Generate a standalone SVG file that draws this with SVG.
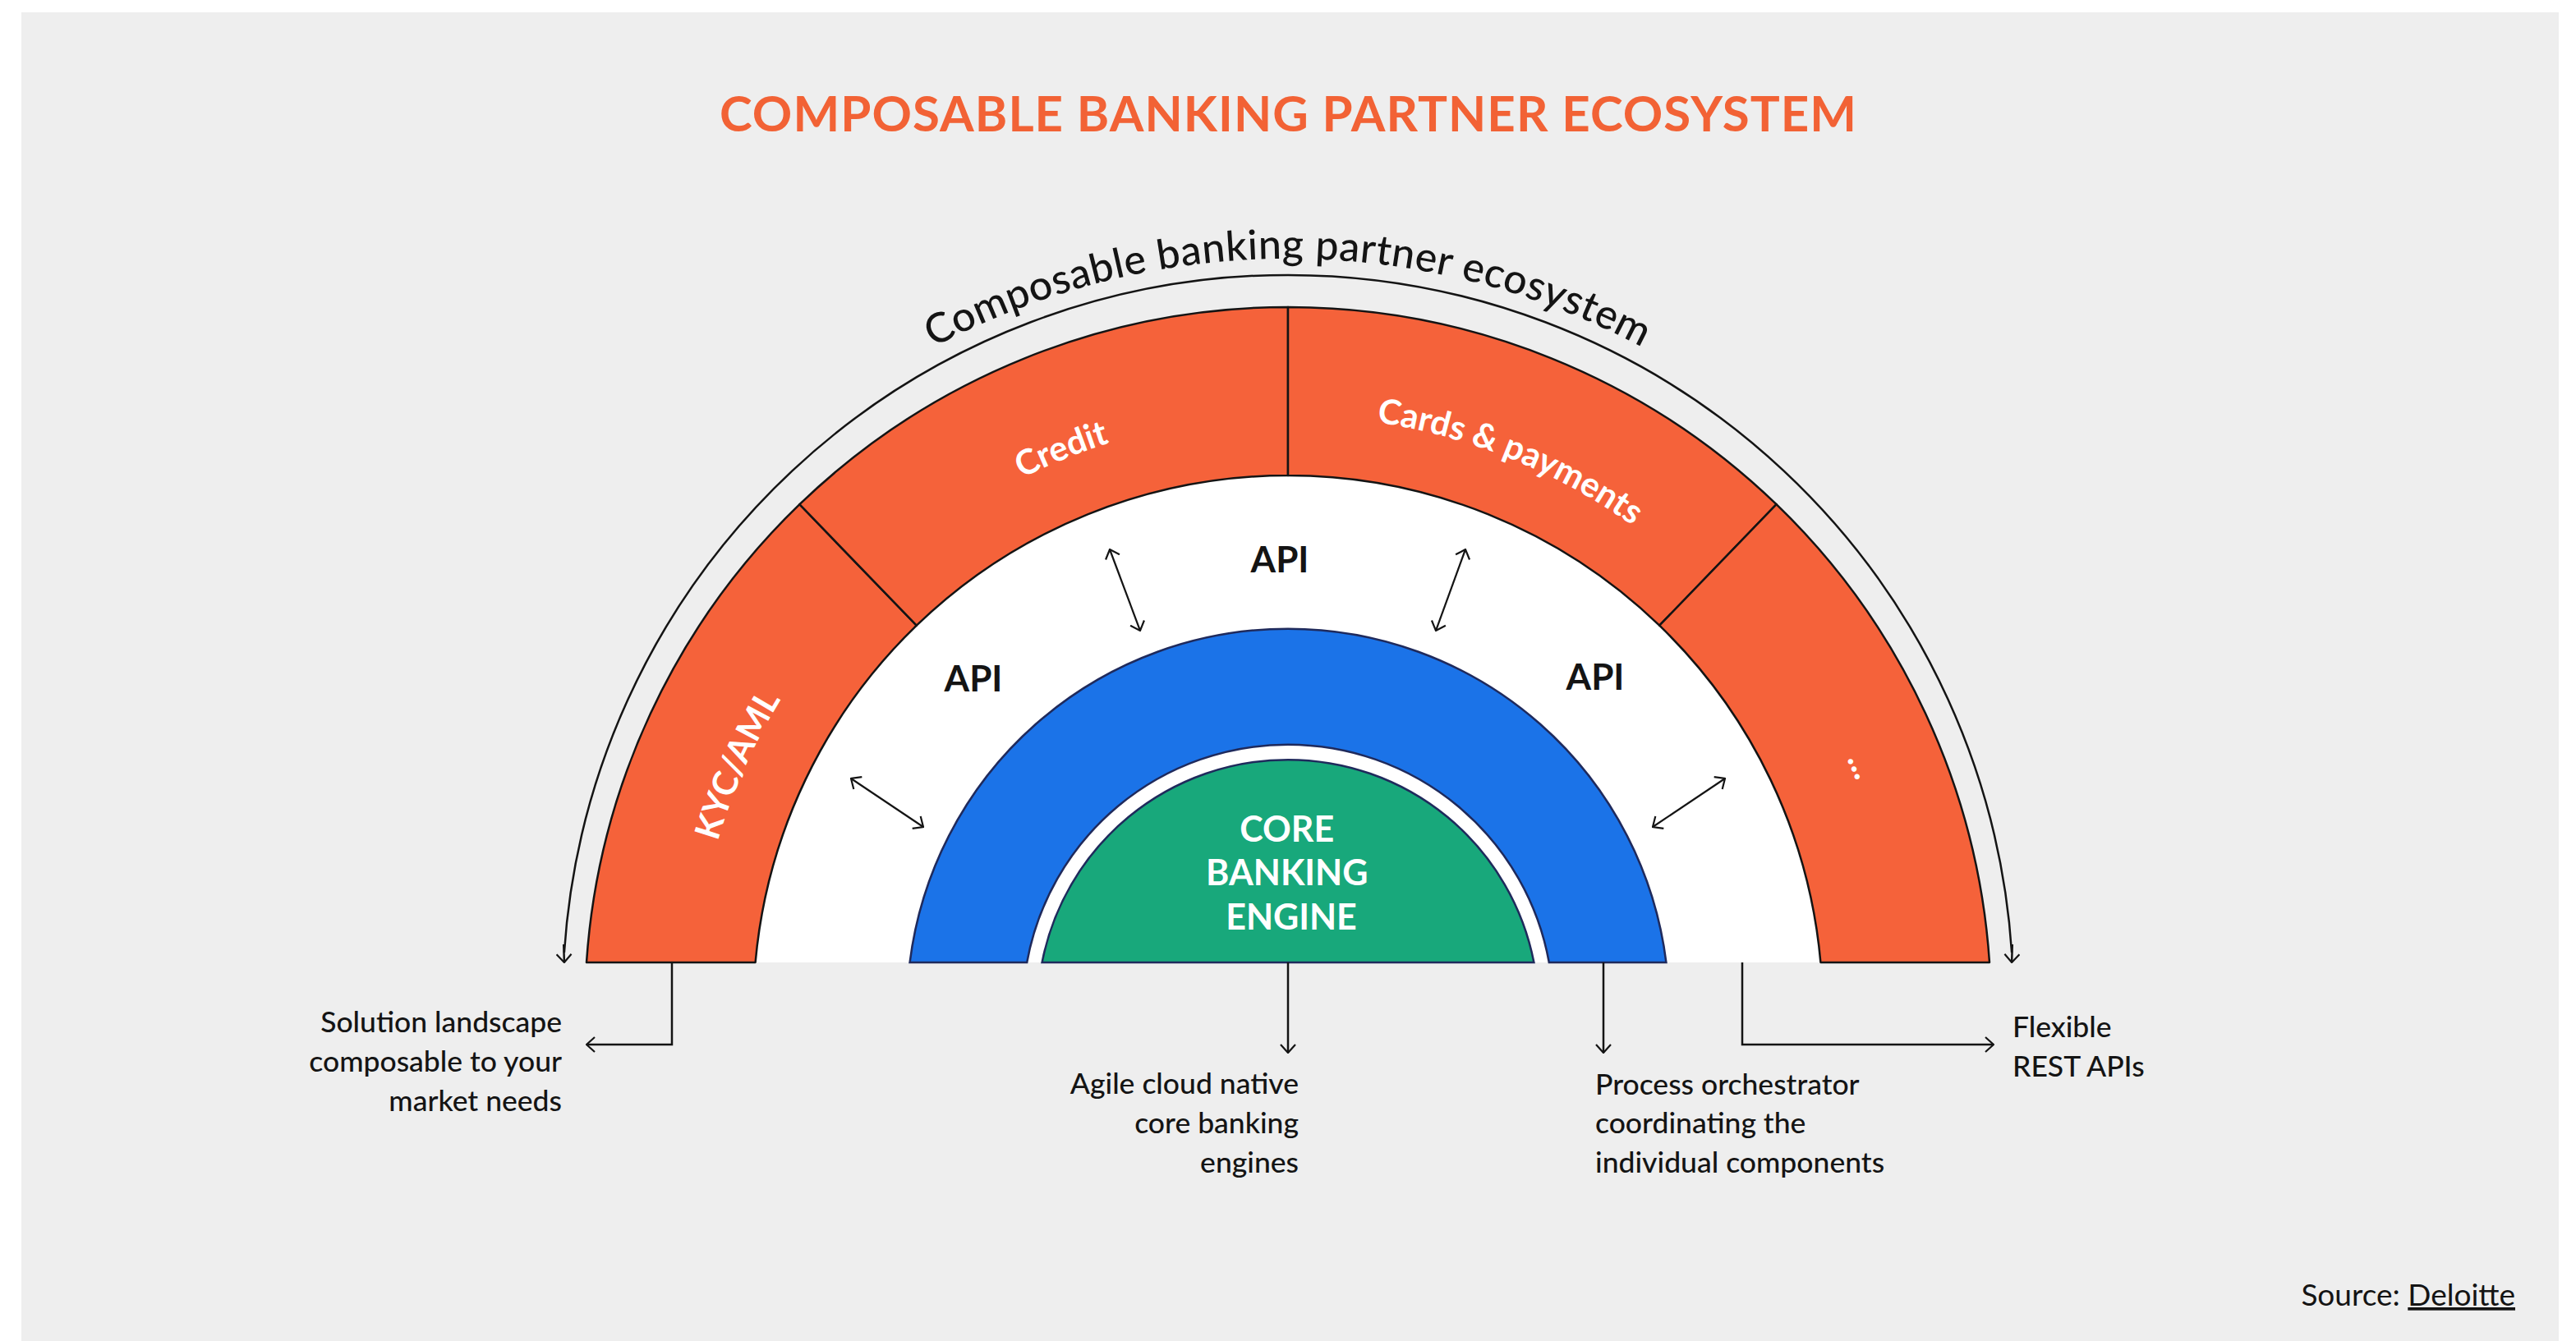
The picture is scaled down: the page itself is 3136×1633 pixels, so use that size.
<svg xmlns="http://www.w3.org/2000/svg" width="3136" height="1633" viewBox="0 0 3136 1633">
<style>
.t{font-family:Lato,"Open Sans","Liberation Sans",sans-serif;fill:#141414}
.lbl{font-size:35.5px;font-weight:500}
.seg{font-family:Lato,"Open Sans","Liberation Sans",sans-serif;font-weight:700;font-size:42px;fill:#fff}
.api{font-family:Lato,"Open Sans","Liberation Sans",sans-serif;font-weight:700;font-size:44px;fill:#141414}
.orange{fill:#F5623A;stroke:#141414;stroke-width:2.5;stroke-linejoin:round}
.blue{fill:#1B73E8;stroke:#1F2A5C;stroke-width:2.5}
.green{fill:#18A87B;stroke:#1F2A5C;stroke-width:2.5}
.ln{fill:none;stroke:#141414;stroke-width:2.5}
.dbl{fill:none;stroke:#141414;stroke-width:2.2;marker-start:url(#ah);marker-end:url(#ah)}
.one{fill:none;stroke:#141414;stroke-width:2.5;marker-end:url(#ah)}
</style>
<defs>
<marker id="ah" viewBox="0 0 12 20" refX="11" refY="10" markerWidth="12" markerHeight="20" markerUnits="userSpaceOnUse" orient="auto-start-reverse"><path d="M1,1 L11,10 L1,19" fill="none" stroke="#141414" stroke-width="2.2"/></marker>
<path id="arcTitle" d="M653,1230 A915,915 0 0 1 2483,1230"/>
<path id="arcSeg" d="M844,1230 A724,724 0 0 1 2292,1230"/>
<path id="arcDots" d="M822,1230 A746,746 0 0 1 2314,1230"/>
</defs>
<rect x="26" y="15" width="3089" height="1618" fill="#EEEEEE"/>
<text x="1568" y="160" text-anchor="middle" textLength="1384" font-family="Lato,'Open Sans','Liberation Sans',sans-serif" font-weight="700" font-size="60" fill="#F26235">COMPOSABLE BANKING PARTNER ECOSYSTEM</text>

<g id="ecosystem-label">
<text class="t" font-size="50" font-weight="500" letter-spacing="0.6"><textPath href="#arcTitle" startOffset="50%" text-anchor="middle">Composable banking partner ecosystem</textPath></text>
</g>

<g id="white-ring">
<path d="M919.6,1172 A651,651 0 0 1 2216.4,1172 Z" fill="#FFFFFF"/>
</g>

<g id="seg-kyc">
<path class="orange" d="M714,1172 A856,856 0 0 1 973.4,614.2 L1115.8,761.7 A651,651 0 0 0 919.6,1172 Z"/>
<text class="seg"><textPath href="#arcSeg" startOffset="303" text-anchor="middle">KYC/AML</textPath></text>
</g>
<g id="seg-credit">
<path class="orange" d="M973.4,614.2 A856,856 0 0 1 1568,374 L1568,579 A651,651 0 0 0 1115.8,761.7 Z"/>
<text class="seg"><textPath href="#arcSeg" startOffset="859" text-anchor="middle">Credit</textPath></text>
</g>
<g id="seg-cards">
<path class="orange" d="M1568,374 A856,856 0 0 1 2162.6,614.2 L2020.2,761.7 A651,651 0 0 0 1568,579 Z"/>
<text class="seg"><textPath href="#arcSeg" startOffset="1415" text-anchor="middle">Cards &amp; payments</textPath></text>
</g>
<g id="seg-more">
<path class="orange" d="M2162.6,614.2 A856,856 0 0 1 2422,1172 L2216.4,1172 A651,651 0 0 0 2020.2,761.7 Z"/>
<text class="seg" font-size="50"><textPath href="#arcDots" startOffset="2043" text-anchor="middle">...</textPath></text>
</g>

<g id="orchestrator">
<path class="blue" d="M1107.6,1172 A464,464 0 0 1 2028.4,1172 L1885.8,1172 A323,323 0 0 0 1250.2,1172 Z"/>
</g>

<g id="core-engine">
<path class="green" d="M1268.6,1172 A305,305 0 0 1 1867.4,1172 Z"/>
<text font-family="Lato,'Open Sans','Liberation Sans',sans-serif" font-weight="700" font-size="43" fill="#FFFFFF" text-anchor="middle">
<tspan x="1572" y="1025">CORE</tspan>
<tspan x="1572" y="1078">BANKING</tspan>
<tspan x="1572" y="1132">ENGINE</tspan>
</text>
</g>

<g id="api-labels">
<text class="api" x="1185" y="842" text-anchor="middle">API</text>
<text class="api" x="1558" y="697" text-anchor="middle">API</text>
<text class="api" x="1942" y="840" text-anchor="middle">API</text>
</g>

<g id="connectors">
<path class="ln" d="M686.9,1160 A883,883 0 0 1 2449.1,1160" />
<path class="dbl" d="M1036,948 L1124,1007"/>
<path class="dbl" d="M1351,669 L1388,768"/>
<path class="dbl" d="M1784,669 L1748,768"/>
<path class="dbl" d="M2100,948 L2012,1007"/>
<path class="one" d="M818,1172 V1272 H714"/>
<path class="one" d="M1568,1172 V1282"/>
<path class="one" d="M1952,1172 V1282"/>
<path class="one" d="M2121,1172 V1272 H2427"/>
</g>

<g id="outer-arrow-heads">
<path class="one" d="M686.2,1150 L686.9,1172"/>
<path class="one" d="M2449.8,1150 L2449.1,1172"/>
</g>

<g id="note-solution">
<text class="t lbl" text-anchor="end"><tspan x="684" y="1257">Solution landscape</tspan><tspan x="684" y="1305">composable to your</tspan><tspan x="684" y="1353">market needs</tspan></text>
</g>
<g id="note-core">
<text class="t lbl" text-anchor="end"><tspan x="1581" y="1332">Agile cloud native</tspan><tspan x="1581" y="1380">core banking</tspan><tspan x="1581" y="1428">engines</tspan></text>
</g>
<g id="note-orchestrator">
<text class="t lbl"><tspan x="1942" y="1333">Process orchestrator</tspan><tspan x="1942" y="1380">coordinating the</tspan><tspan x="1942" y="1428">individual components</tspan></text>
</g>
<g id="note-api">
<text class="t lbl"><tspan x="2450" y="1263">Flexible</tspan><tspan x="2450" y="1311">REST APIs</tspan></text>
</g>
<text class="t" font-size="37" x="3062" y="1590" text-anchor="end">Source: <tspan text-decoration="underline">Deloitte</tspan></text>
</svg>
